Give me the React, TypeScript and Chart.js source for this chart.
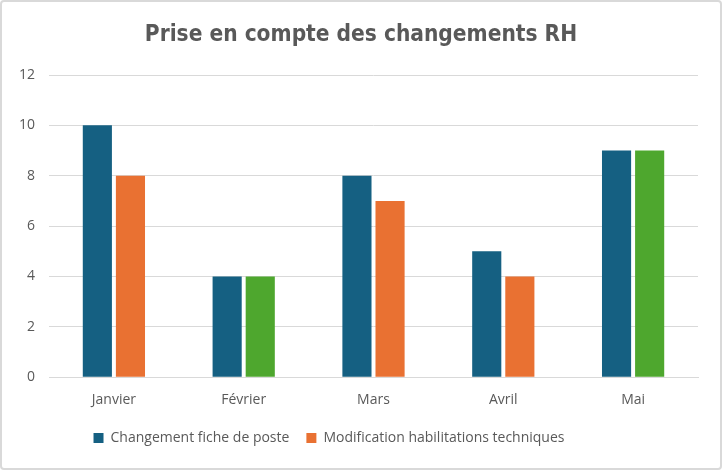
import React, { useEffect, useRef } from "react";
import { Chart, registerables } from "chart.js";

Chart.register(...registerables);

const categories = ["Janvier", "Février", "Mars", "Avril", "Mai"];
const seriesNames = ["Changement fiche de poste", "Modification habilitations techniques"];
const serie1 = [10, 4, 8, 5, 9];
const serie2 = [8, 4, 7, 4, 9];
const serie2Colors = ["#E97132", "#4EA72E", "#E97132", "#E97132", "#4EA72E"];
const titleText = "Prise en compte des changements RH";

const recenter = {
  id: "recenter",
  afterLayout(chart: any) {
    if (chart.titleBlock) {
      chart.titleBlock.left = 0;
      chart.titleBlock.right = chart.width;
    }
    if (chart.legend) {
      chart.legend.left = 0;
      chart.legend.right = 654;
    }
  },
};

export default function App() {
  const ref = useRef<HTMLCanvasElement>(null);
  useEffect(() => {
    document.body.style.margin = "0";
    const ctx = ref.current!;
    const font = "'Open Sans', 'DejaVu Sans', sans-serif";
    const chart = new Chart(ctx, {
      type: "bar",
      data: {
        labels: categories,
        datasets: [
          { label: seriesNames[0], data: serie1, backgroundColor: "#156082", categoryPercentage: 0.51, barPercentage: 0.88 },
          { label: seriesNames[1], data: serie2, backgroundColor: serie2Colors, categoryPercentage: 0.51, barPercentage: 0.88 },
        ],
      },
      plugins: [recenter],
      options: {
        animation: false,
        responsive: false,
        layout: { padding: { left: 0, right: 22, top: 6, bottom: 13 } },
        plugins: {
          title: {
            display: true,
            text: titleText,
            color: "#595959",
            font: { family: "'DejaVu Sans Condensed', 'DejaVu Sans', sans-serif", size: 22.5, weight: "bold" },
            padding: { top: 14, bottom: 26 },
          },
          legend: {
            position: "bottom",
            labels: {
              color: "#595959",
              font: { family: font, size: 14 },
              boxWidth: 10,
              boxHeight: 10,
              padding: 17,
              generateLabels: (c: any) =>
                c.data.datasets.map((d: any, i: number) => ({
                  text: d.label,
                  fillStyle: i === 0 ? "#156082" : "#E97132",
                  strokeStyle: "transparent",
                  lineWidth: 0,
                  fontColor: "#595959",
                  datasetIndex: i,
                  hidden: false,
                })),
            },
          },
          tooltip: { enabled: false },
        },
        scales: {
          x: {
            grid: { display: false },
            border: { color: "#d9d9d9", width: 1 },
            ticks: { color: "#595959", font: { family: font, size: 14 }, padding: 6 },
          },
          y: {
            min: 0,
            max: 12,
            afterFit: (s: any) => { s.width = 47; },
            ticks: { stepSize: 2, color: "#595959", font: { family: font, size: 14 }, padding: 14 },
            grid: { color: "#d9d9d9", lineWidth: 1, drawTicks: false },
            border: { display: false },
          },
        },
      },
    });
    return () => chart.destroy();
  }, []);
  return (
    <div
      style={{
        width: 722,
        height: 470,
        boxSizing: "border-box",
        border: "2px solid #d9d9d9",
        borderRadius: 4,
        background: "#fff",
        overflow: "hidden",
      }}
    >
      <canvas ref={ref} width={718} height={466} />
    </div>
  );
}
